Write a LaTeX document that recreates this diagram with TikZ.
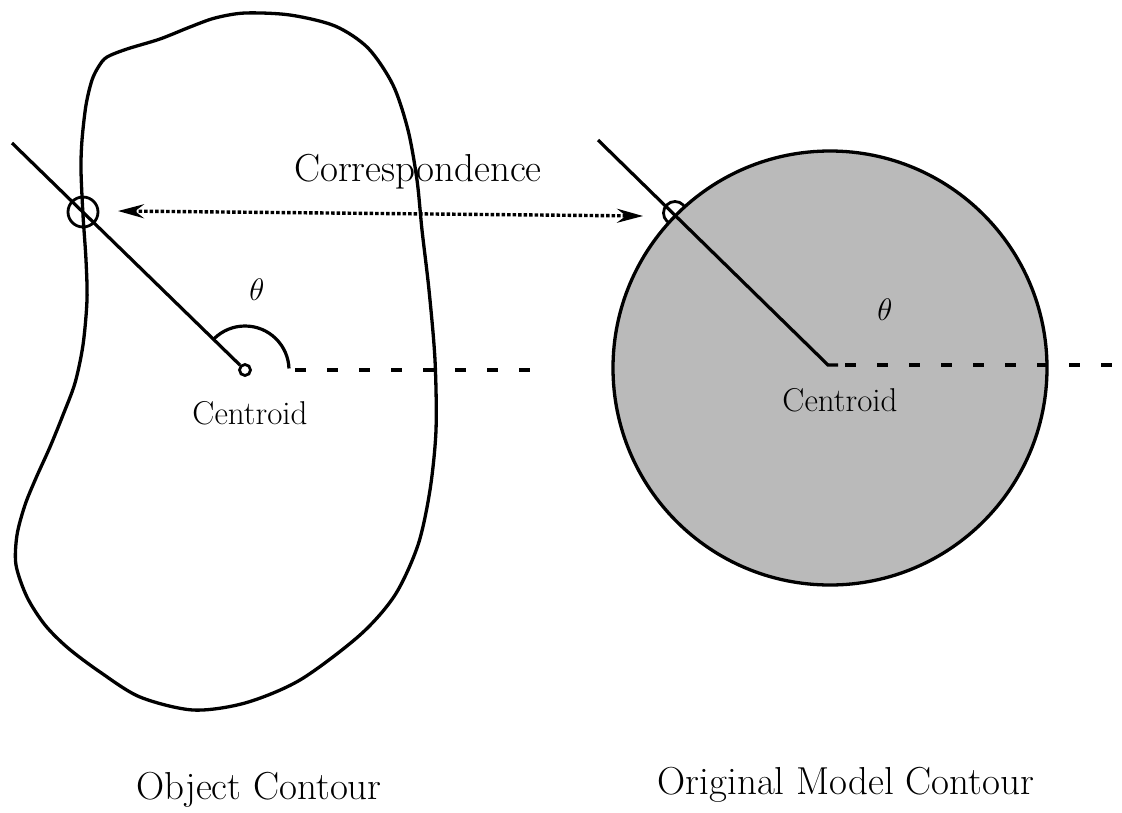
\documentclass[tikz,border=0pt]{standalone}
\usetikzlibrary{arrows.meta}
\begin{document}
\begin{tikzpicture}[x=1pt,y=-1pt,
  outline/.style={line width=3.3pt, line join=round},
  ray/.style={line width=3.2pt},
  axisdash/.style={line width=3.2pt, dash pattern=on 11pt off 21pt},
  corr/.style={line width=3.4pt, dash pattern=on 3.5pt off 2pt, {Stealth[length=26pt,width=14pt,inset=9pt]}-{Stealth[length=26pt,width=14pt,inset=9pt]}},
  lbl/.style={inner sep=0pt, font=\fontsize{33}{38}\selectfont},
  biglbl/.style={inner sep=0pt, font=\fontsize{39}{44}\selectfont},
  thlbl/.style={inner sep=0pt, font=\Huge, scale=1.25}]
\useasboundingbox (0,0) rectangle (1122,812);
\definecolor{discgray}{RGB}{186,186,186}

% ---------- left: object contour ----------
\draw[outline] plot[smooth cycle, tension=0.5] coordinates {
 (107,57) (127,49) (160,39) (190,27) (215,18) (245,13) (290,15) (335,26)
 (368,48) (393,85) (408,130) (417,180) (422,230) (429,290) (435,360)
 (436,430) (430,490) (418,545) (395,595) (360,635) (300,680) (245,703)
 (193,710) (140,697) (100,672) (68,648) (45,625) (27,597) (16,565)
 (17,535) (25,505) (36,478) (50,447) (63,415) (75,383) (83,345) (87,300)
 (86,260) (83,215) (81,170) (82,140) (86,105) (92,80) (99,66)};

\coordinate (cL) at (245,370);
\coordinate (endL) at (12,143);
\coordinate (dashLs) at (295,370);
\coordinate (dashLe) at (548,370);
\node[draw, circle, line width=2.8pt, minimum size=11pt, inner sep=0pt] (centL) at (cL) {};
\draw[ray] (centL) -- (endL);
\node[draw, circle, line width=2.8pt, minimum size=30pt, inner sep=0pt] (hitL) at (83,212) {};
\draw[ray] ([shift={(225:44)}]cL) arc[start angle=225, end angle=358, radius=44];
\draw[axisdash] (dashLs) -- (dashLe);
\node[thlbl] (thL) at (257,290) {$\theta$};
\node[lbl] (centLtext) at (250,413) {Centroid};

% ---------- right: model contour ----------
\node[draw, circle, line width=2.8pt, minimum size=23pt, inner sep=0pt] (hitR) at (675,213) {};
\coordinate (cR) at (828,365);
\fill[discgray] (830,368) circle[radius=217];
\draw[outline] (830,368) circle[radius=217];
\coordinate (endR) at (598,140);
\coordinate (solR) at (838,365);
\coordinate (dashRe) at (1122,365);
\draw[ray] (endR) -- (cR) -- (solR);
\draw[axisdash] (845,365) -- (dashRe);
\node[thlbl] (thR) at (885,310) {$\theta$};
\node[lbl] (centRtext) at (840,400) {Centroid};

% ---------- correspondence ----------
\coordinate (arrL) at (118,211);
\coordinate (arrR) at (643,216);
\draw[corr] (arrL) -- (arrR);
\node[biglbl] (corrtext) at (418,172) {Correspondence};

% ---------- captions ----------
\node[biglbl] (objtext) at (259,790) {Object Contour};
\node[biglbl] (modtext) at (846,785) {Original Model Contour};
\end{tikzpicture}
\end{document}
